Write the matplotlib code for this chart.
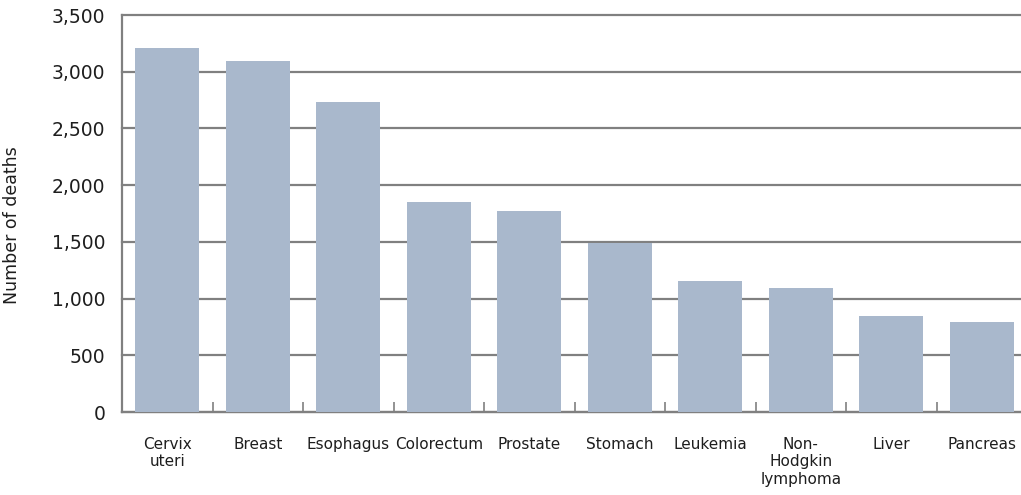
import matplotlib
matplotlib.use("Agg")
import matplotlib.pyplot as plt
import numpy as np

# cancer sites and deaths
sites = ["Cervix\nuteri", "Breast", "Esophagus", "Colorectum", "Prostate",
         "Stomach", "Leukemia", "Non-\nHodgkin\nlymphoma", "Liver", "Pancreas"]
deaths = [3210, 3095, 2735, 1850, 1770, 1490, 1155, 1095, 850, 795]
y_ticks = [0, 500, 1000, 1500, 2000, 2500, 3000, 3500]

BAR_COLOR = "#a9b8cc"
GRID_COLOR = "#808080"
TEXT_COLOR = "#1e1e1e"

fig = plt.figure(figsize=(10.21, 4.95), dpi=100)
ax = fig.add_axes([122 / 1021, 1 - 412 / 495, 905 / 1021, 397 / 495])

x = np.arange(len(sites))
ax.bar(x, deaths, width=0.71, color=BAR_COLOR, zorder=3)

ax.set_xlim(-0.5, len(sites) - 0.5)
ax.set_ylim(0, 3500)
ax.set_yticks(y_ticks)
ax.set_yticklabels([f"{v:,}" for v in y_ticks], fontsize=13.5, color=TEXT_COLOR)
ax.yaxis.grid(True, color=GRID_COLOR, linewidth=1.6, zorder=0)
ax.set_axisbelow(True)
# keep the 3,500 line at full width on the top edge
for line in ax.get_ygridlines():
    line.set_clip_on(False)

ax.set_xticks(x)
ax.set_xticklabels(sites, fontsize=11, color=TEXT_COLOR, linespacing=1.2, va="top")
ax.tick_params(axis="x", which="major", length=0, pad=18)
ax.set_xticks(x[:-1] + 0.5, minor=True)
ax.tick_params(axis="x", which="minor", direction="in", length=7, width=1.2, color=GRID_COLOR)
ax.tick_params(axis="y", length=0, pad=12)

for side in ["top", "right"]:
    ax.spines[side].set_visible(False)
for side in ["left", "bottom"]:
    ax.spines[side].set_color(GRID_COLOR)
    ax.spines[side].set_linewidth(1.6)

ax.set_ylabel("Number of deaths", fontsize=12.5, color=TEXT_COLOR)
ax.yaxis.set_label_coords(-0.112, 0.47)

fig.savefig("out.png", dpi=100)
